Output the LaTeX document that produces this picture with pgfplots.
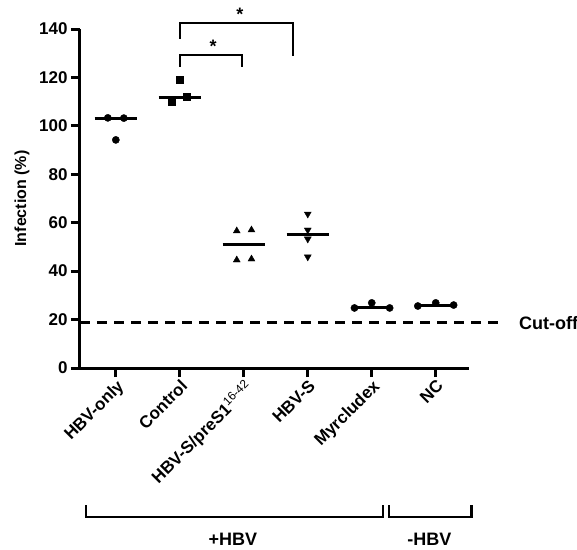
\documentclass[border=0pt]{standalone}
\usepackage{fontspec}
\setmainfont{Liberation Sans}[BoldFont={Liberation Sans Bold}]
\usepackage{pgfplots}
\pgfplotsset{compat=1.18}

\begin{document}
\begin{tikzpicture}
\begin{axis}[
  scale only axis, width=389pt, height=339pt,
  xmin=-0.56, xmax=5.52, ymin=0, ymax=140,
  axis x line*=bottom, axis y line*=left,
  axis line style={line width=3pt},
  clip=false,
  xtick={0,...,5},
  xticklabels={HBV-only,Control,HBV-S/preS1\textsuperscript{\mdseries 16-42},HBV-S,Myrcludex,NC},
  ytick={0,20,...,140},
  tick align=outside, major tick length=9pt,
  tick style={line width=3pt, black},
  /pgf/number format/assume math mode=true,
  tick label style={font=\bfseries\fontsize{17}{20}\selectfont},
  x tick label style={rotate=45, anchor=north east, inner sep=1pt},
  ylabel={Infection (\%)},
  ylabel style={font=\bfseries\fontsize{16}{19}\selectfont, at={(axis description cs:-0.149,0.5)}, anchor=center},
  every axis plot/.append style={black},
]
\coordinate (O) at (rel axis cs:0,0);
% medians
\addplot[line width=3pt] coordinates {(-0.33,103) (0.33,103)};
\addplot[line width=3pt] coordinates {(0.67,111.8) (1.33,111.8)};
\addplot[line width=3pt] coordinates {(1.67,50.8) (2.33,50.8)};
\addplot[line width=3pt] coordinates {(2.67,55) (3.33,55)};
\addplot[line width=3pt] coordinates {(3.73,24.8) (4.28,24.8)};
\addplot[line width=3pt] coordinates {(4.72,26) (5.28,26)};
% points
\addplot[only marks, mark=*, mark size=3.6pt] coordinates {(-0.125,103.3) (0.125,103.2) (0,94.2)};
\addplot[only marks, mark=square*, mark size=3.5pt] coordinates {(1,119) (0.875,110) (1.11,112)};
\addplot[only marks, mark=triangle*, mark size=4pt] coordinates {(1.89,56.6) (2.12,57) (1.89,44.6) (2.12,45)};
\addplot[only marks, mark=triangle*, mark size=4pt, mark options={rotate=180}] coordinates {(3,63.6) (3,57) (3,53.3) (3,45.9)};
\addplot[only marks, mark=*, mark size=3.6pt] coordinates {(3.73,24.8) (4,26.9) (4.28,24.8)};
\addplot[only marks, mark=*, mark size=3.6pt] coordinates {(4.72,25.6) (5,26.9) (5.28,26)};
% cut-off
\addplot[line width=3pt, dash pattern=on 10pt off 7pt] coordinates {(-0.56,18.6) (6.06,18.6)};
\node[anchor=west, font=\bfseries\fontsize{18}{20}\selectfont] at (axis cs:6.25,18.6) {Cut-off};
% significance brackets
\draw[line width=2.2pt] (axis cs:1,136) |- (axis cs:2.77,142.6) -- (axis cs:2.77,129);
\draw[line width=2.2pt] (axis cs:1,124.4) |- (axis cs:1.97,129.3) -- (axis cs:1.97,124.4);
\node[anchor=base, font=\bfseries\fontsize{18}{20}\selectfont] at (axis cs:1.94,143.6) {*};
\node[anchor=base, font=\bfseries\fontsize{18}{20}\selectfont] at (axis cs:1.52,130.3) {*};
% group brackets
\draw[line width=2.2pt] (axis cs:-0.47,-56.6) |- (axis cs:4.17,-61.6) -- (axis cs:4.17,-56.6);
\draw[line width=2.2pt] (axis cs:4.27,-56.6) |- (axis cs:5.56,-61.6) -- (axis cs:5.56,-56.6);
\node[anchor=base, font=\bfseries\fontsize{18}{20}\selectfont] at (axis cs:1.83,-73.5) {+HBV};
\node[anchor=base, font=\bfseries\fontsize{18}{20}\selectfont] at (axis cs:4.9,-73.5) {-HBV};
\end{axis}
\pgfresetboundingbox
\useasboundingbox ([shift={(-80pt,-181pt)}]O) rectangle ([shift={(497pt,368pt)}]O);
\end{tikzpicture}
\end{document}
